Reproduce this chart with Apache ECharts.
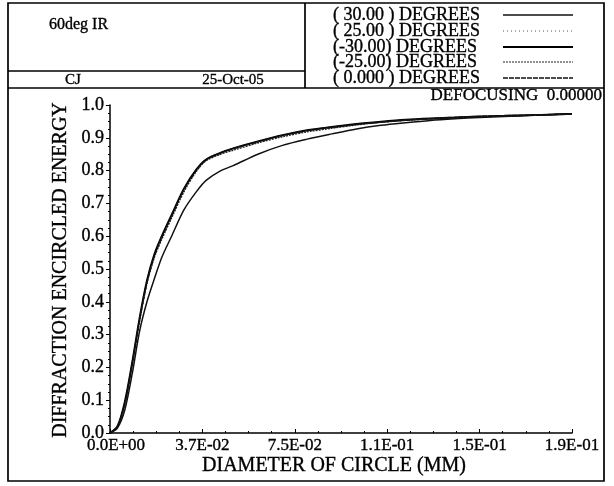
<!DOCTYPE html>
<html>
<head>
<meta charset="utf-8">
<script src="https://cdn.jsdelivr.net/npm/echarts@6/dist/echarts.min.js"></script>
<style>html,body{margin:0;padding:0;background:#fff}#c{width:614px;height:486px}</style>
</head>
<body>
<div id="c"></div>
<script>
// ---- data ----
const diameters = [0, 0.003, 0.006, 0.009, 0.012, 0.015, 0.018, 0.021, 0.025, 0.03, 0.035, 0.039, 0.045, 0.05, 0.06, 0.07, 0.08, 0.09, 0.1, 0.11, 0.12, 0.13, 0.14, 0.15, 0.16, 0.17, 0.18, 0.1875];
const e30  = [0, 0.015, 0.07, 0.18, 0.31, 0.40, 0.47, 0.535, 0.60, 0.68, 0.735, 0.77, 0.80, 0.815, 0.85, 0.877, 0.896, 0.912, 0.927, 0.938, 0.946, 0.953, 0.958, 0.962, 0.965, 0.968, 0.971, 0.973];
const e25  = [0, 0.02, 0.09, 0.21, 0.345, 0.46, 0.54, 0.595, 0.66, 0.74, 0.80, 0.832, 0.853, 0.866, 0.887, 0.906, 0.921, 0.931, 0.941, 0.948, 0.954, 0.958, 0.962, 0.964, 0.966, 0.968, 0.971, 0.973];
const eM30 = [0, 0.02, 0.095, 0.215, 0.35, 0.465, 0.545, 0.60, 0.665, 0.745, 0.803, 0.834, 0.855, 0.868, 0.889, 0.908, 0.923, 0.933, 0.942, 0.949, 0.955, 0.959, 0.962, 0.965, 0.967, 0.969, 0.971, 0.973];
const eM25 = [0, 0.018, 0.085, 0.205, 0.34, 0.455, 0.535, 0.59, 0.655, 0.735, 0.797, 0.83, 0.85, 0.862, 0.884, 0.903, 0.918, 0.929, 0.939, 0.947, 0.953, 0.958, 0.961, 0.964, 0.966, 0.968, 0.971, 0.973];
const e0   = [0, 0.02, 0.09, 0.21, 0.345, 0.46, 0.54, 0.597, 0.662, 0.742, 0.80, 0.833, 0.854, 0.867, 0.888, 0.907, 0.922, 0.932, 0.941, 0.948, 0.954, 0.958, 0.962, 0.965, 0.967, 0.969, 0.971, 0.973];
const seriesNames = ['( 30.00 ) DEGREES', '( 25.00 ) DEGREES', '(-30.00) DEGREES', '(-25.00) DEGREES', '( 0.000 ) DEGREES'];
const xTickLabels = ['0.0E+00', '3.7E-02', '7.5E-02', '1.1E-01', '1.5E-01', '1.9E-01'];
const yTickLabels = ['0.0', '0.1', '0.2', '0.3', '0.4', '0.5', '0.6', '0.7', '0.8', '0.9', '1.0'];

const FONT = '"Liberation Serif", "DejaVu Serif", serif';
const seriesData = [e30, e25, eM30, eM25, e0];
const lineStyles = [
  {width: 1.5, type: 'solid', color: '#111'},
  {width: 1.2, type: [1, 3], color: '#555'},
  {width: 1.9, type: 'solid', color: '#000'},
  {width: 1.3, type: [2, 1], color: '#222'},
  {width: 1.6, type: [5, 1], color: '#111'}
];
const legendY = [15, 31, 47, 62, 78];
const legendLineW = [1.6, 1, 2, 1.2, 1.6];

const chart = echarts.init(document.getElementById('c'), null, {renderer: 'canvas'});

const txt = (extra) => Object.assign({fill: '#000', stroke: '#000', lineWidth: 0.35}, extra);
const graphics = [];
// outer frame & header cells
const bw = 1.7;
graphics.push({type: 'rect', shape: {x: 8, y: 3, width: 596, height: 478}, style: {fill: 'none', stroke: '#000', lineWidth: bw}});
graphics.push({type: 'line', shape: {x1: 8, y1: 88, x2: 604, y2: 88}, style: {stroke: '#000', lineWidth: bw}});
graphics.push({type: 'line', shape: {x1: 305, y1: 3, x2: 305, y2: 88}, style: {stroke: '#000', lineWidth: bw}});
graphics.push({type: 'line', shape: {x1: 8, y1: 71, x2: 305, y2: 71}, style: {stroke: '#000', lineWidth: bw}});
// header texts
graphics.push({type: 'text', x: 49, y: 25, style: txt({text: '60deg IR', font: '16px ' + FONT, verticalAlign: 'middle'})});
graphics.push({type: 'text', x: 73, y: 80, style: txt({text: 'CJ', font: '15px ' + FONT, align: 'center', verticalAlign: 'middle'})});
graphics.push({type: 'text', x: 233, y: 80, style: txt({text: '25-Oct-05', font: '15px ' + FONT, align: 'center', verticalAlign: 'middle'})});
// legend
seriesNames.forEach((n, i) => {
  graphics.push({type: 'text', x: 333, y: legendY[i], style: txt({text: n, font: '18px ' + FONT, verticalAlign: 'middle'})});
  const ls = lineStyles[i];
  graphics.push({type: 'line', shape: {x1: 503, y1: legendY[i], x2: 573, y2: legendY[i]}, style: {stroke: ls.color, lineWidth: legendLineW[i], lineDash: ls.type === 'solid' ? null : ls.type}});
});
// defocusing
graphics.push({type: 'text', x: 602, y: 96, style: txt({text: 'DEFOCUSING  0.00000', font: '17px ' + FONT, align: 'right', verticalAlign: 'middle'})});
// axis titles
graphics.push({type: 'text', x: 61, y: 270, rotation: Math.PI / 2, style: txt({text: 'DIFFRACTION ENCIRCLED ENERGY', font: '20px ' + FONT, align: 'center', verticalAlign: 'middle'})});
graphics.push({type: 'text', x: 334, y: 466, style: txt({text: 'DIAMETER OF CIRCLE (MM)', font: '20px ' + FONT, align: 'center', verticalAlign: 'middle'})});

const labelBase = {color: '#000', fontFamily: FONT, textBorderColor: '#000', textBorderWidth: 0.35};
const option = {
  animation: false,
  backgroundColor: '#fff',
  grid: {left: 110, right: 42, top: 105, bottom: 53, containLabel: false},
  xAxis: {
    type: 'value', min: 0, max: 0.1875, interval: 0.0375,
    axisLine: {lineStyle: {color: '#000', width: 1.5}},
    axisTick: {inside: true, length: 4, lineStyle: {color: '#000'}},
    minorTick: {show: true, splitNumber: 4, length: 2, lineStyle: {color: '#000'}},
    splitLine: {show: false},
    axisLabel: Object.assign({}, labelBase, {
      fontSize: 17, margin: 4,
      formatter: v => {
        const i = Math.round(v / 0.0375);
        return i === 0 ? '{f|' + xTickLabels[i] + '}' : xTickLabels[i];
      },
      rich: {f: {fontFamily: FONT, fontSize: 17, color: '#000', padding: [0, 0, 0, 12], textBorderColor: '#000', textBorderWidth: 0.35}}
    })
  },
  yAxis: {
    type: 'value', min: 0, max: 1, interval: 0.1,
    axisLine: {show: true, lineStyle: {color: '#000', width: 1.5}},
    axisTick: {show: true, inside: false, length: 4, lineStyle: {color: '#000'}},
    minorTick: {show: true, splitNumber: 4, length: 2, lineStyle: {color: '#000'}},
    splitLine: {show: false},
    axisLabel: Object.assign({}, labelBase, {
      fontSize: 18, margin: 6,
      formatter: v => yTickLabels[Math.round(v * 10)]
    })
  },
  series: seriesData.map((arr, i) => ({
    name: seriesNames[i], type: 'line', smooth: 0.3, showSymbol: false,
    lineStyle: lineStyles[i],
    data: arr.map((y, k) => [diameters[k], y])
  })),
  graphic: graphics
};
chart.setOption(option);
</script>
</body>
</html>
